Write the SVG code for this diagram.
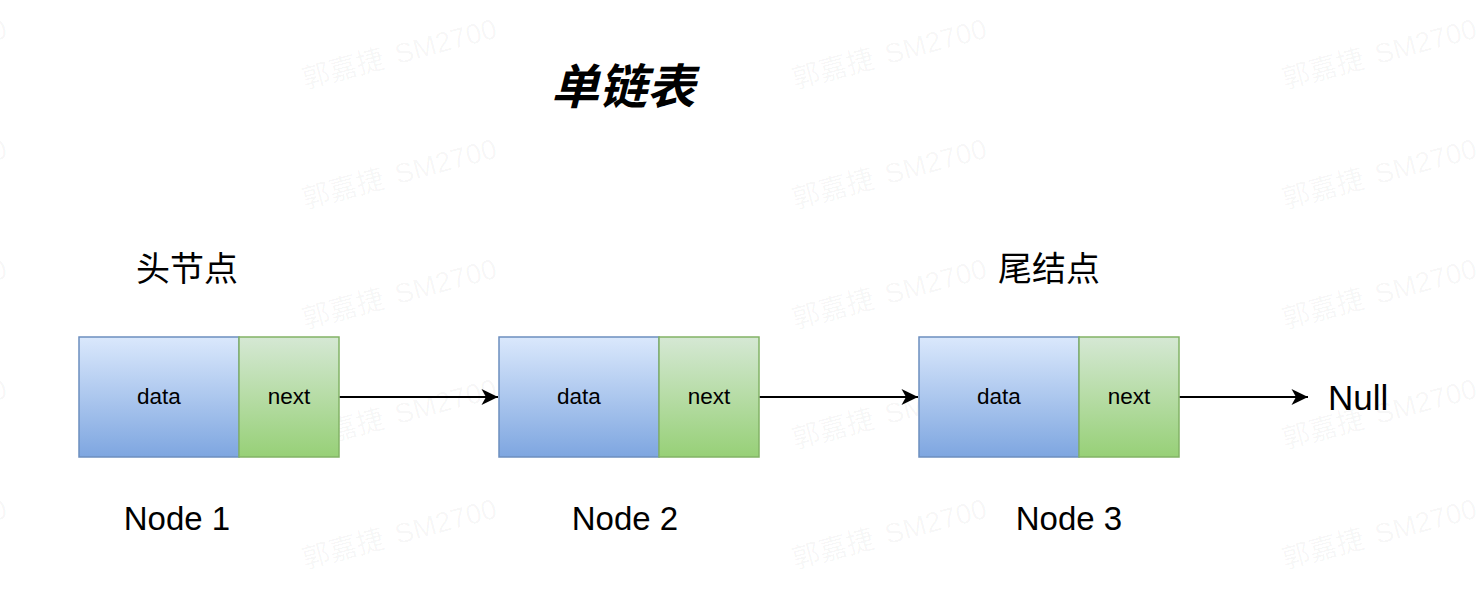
<svg xmlns="http://www.w3.org/2000/svg" xmlns:xlink="http://www.w3.org/1999/xlink" width="1484" height="598" viewBox="0 0 1484 598">
<style>
  .wm { font-family: "Liberation Sans", "Noto Sans CJK SC", sans-serif; font-size: 28px; fill: #000; fill-opacity: 0.04; }
  .blue { fill: url(#gBlue); stroke: #6c8ebf; stroke-width: 1.5; }
  .green { fill: url(#gGreen); stroke: #82b366; stroke-width: 1.5; }
  .cell { font-family: "Liberation Sans", Arial, sans-serif; font-size: 22.5px; fill: #000; text-anchor: middle; }
  .label { font-family: "Liberation Sans", Arial, sans-serif; font-size: 33px; fill: #000; text-anchor: middle; }
  .cjk { font-family: "Noto Sans CJK SC", sans-serif; font-size: 34px; fill: #000; text-anchor: middle; }
  .title { font-family: "Noto Sans CJK SC", sans-serif; font-size: 48px; font-weight: bold; font-style: italic; fill: #000; text-anchor: middle; }
  .edge { stroke: #000; stroke-width: 2; fill: none; marker-end: url(#arrow); }
</style>
<defs>
  <linearGradient id="gBlue" x1="0" y1="0" x2="0" y2="1">
    <stop offset="0" stop-color="#dae8fc"/>
    <stop offset="1" stop-color="#7ea6e0"/>
  </linearGradient>
  <linearGradient id="gGreen" x1="0" y1="0" x2="0" y2="1">
    <stop offset="0" stop-color="#d5e8d4"/>
    <stop offset="1" stop-color="#97d077"/>
  </linearGradient>
  <marker id="arrow" markerUnits="userSpaceOnUse" markerWidth="20" markerHeight="20" viewBox="-18 -10 20 20" refX="0" refY="0" orient="auto">
    <path d="M0,0 L-16.5,-8 L-12,0 L-16.5,8 Z" fill="#000"/>
  </marker>
  <text id="wm" class="wm">郭嘉捷<tspan dx="12">SM2700</tspan></text>
</defs>
<rect width="1484" height="598" fill="#fff"/>
<g id="watermark">
  <use xlink:href="#wm" transform="translate(-185,89) rotate(-15)"/>
  <use xlink:href="#wm" transform="translate(305,89) rotate(-15)"/>
  <use xlink:href="#wm" transform="translate(795,89) rotate(-15)"/>
  <use xlink:href="#wm" transform="translate(1285,89) rotate(-15)"/>
  <use xlink:href="#wm" transform="translate(-185,209) rotate(-15)"/>
  <use xlink:href="#wm" transform="translate(305,209) rotate(-15)"/>
  <use xlink:href="#wm" transform="translate(795,209) rotate(-15)"/>
  <use xlink:href="#wm" transform="translate(1285,209) rotate(-15)"/>
  <use xlink:href="#wm" transform="translate(-185,329) rotate(-15)"/>
  <use xlink:href="#wm" transform="translate(305,329) rotate(-15)"/>
  <use xlink:href="#wm" transform="translate(795,329) rotate(-15)"/>
  <use xlink:href="#wm" transform="translate(1285,329) rotate(-15)"/>
  <use xlink:href="#wm" transform="translate(-185,449) rotate(-15)"/>
  <use xlink:href="#wm" transform="translate(305,449) rotate(-15)"/>
  <use xlink:href="#wm" transform="translate(795,449) rotate(-15)"/>
  <use xlink:href="#wm" transform="translate(1285,449) rotate(-15)"/>
  <use xlink:href="#wm" transform="translate(-185,569) rotate(-15)"/>
  <use xlink:href="#wm" transform="translate(305,569) rotate(-15)"/>
  <use xlink:href="#wm" transform="translate(795,569) rotate(-15)"/>
  <use xlink:href="#wm" transform="translate(1285,569) rotate(-15)"/>
</g>
<g id="title"><text class="title" x="623" y="104">单链表</text></g>
<g id="head-label"><text class="cjk" x="187" y="281">头节点</text></g>
<g id="tail-label"><text class="cjk" x="1049" y="281">尾结点</text></g>
<g id="node1">
  <rect class="blue" x="79" y="337" width="160" height="120"/>
  <rect class="green" x="239" y="337" width="100" height="120"/>
  <text class="cell" x="159" y="404">data</text>
  <text class="cell" x="289" y="404">next</text>
  <text class="label" x="177" y="530">Node 1</text>
</g>
<g id="node2">
  <rect class="blue" x="499" y="337" width="160" height="120"/>
  <rect class="green" x="659" y="337" width="100" height="120"/>
  <text class="cell" x="579" y="404">data</text>
  <text class="cell" x="709" y="404">next</text>
  <text class="label" x="625" y="530">Node 2</text>
</g>
<g id="node3">
  <rect class="blue" x="919" y="337" width="160" height="120"/>
  <rect class="green" x="1079" y="337" width="100" height="120"/>
  <text class="cell" x="999" y="404">data</text>
  <text class="cell" x="1129" y="404">next</text>
  <text class="label" x="1069" y="530">Node 3</text>
</g>
<g id="null"><text x="1328" y="410" style="font-family:'Liberation Sans',Arial,sans-serif;font-size:35px;fill:#000">Null</text></g>
<g id="connectors">
  <path class="edge" d="M339.75,397 L498,397"/>
  <path class="edge" d="M759.75,397 L918,397"/>
  <path class="edge" d="M1179.75,397 L1308,397"/>
</g>
</svg>
